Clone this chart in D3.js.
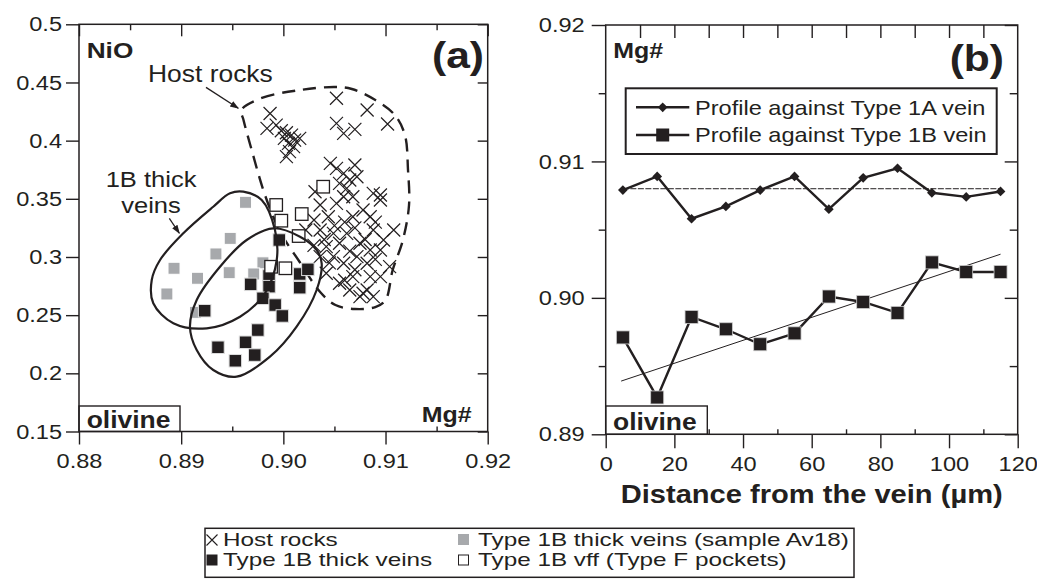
<!DOCTYPE html>
<html>
<head>
<meta charset="utf-8">
<script src="https://cdn.jsdelivr.net/npm/d3@7"></script>
<style>
  body { margin: 0; background: #fff; }
  svg { display: block; }
</style>
</head>
<body>
<div id="chart"></div>
<script>
// ---- panel (a) data: Mg# vs NiO (wt%) in olivine ----
const hostRocks = [
  [0.9052,0.4364],[0.9082,0.4263],[0.9102,0.4143],[0.9052,0.4149],[0.9059,0.4063],[0.9070,0.4097],
  [0.8987,0.4233],[0.8984,0.4106],[0.8993,0.4134],[0.8998,0.4085],[0.9003,0.4068],[0.9008,0.4048],
  [0.9011,0.4005],[0.9016,0.4020],[0.9005,0.3977],[0.9010,0.3948],[0.9006,0.3905],[0.9003,0.3862],
  [0.9001,0.4020],[0.9046,0.3805],[0.9052,0.3762],[0.9070,0.3791],[0.9059,0.3719],[0.9065,0.3662],
  [0.9072,0.3690],[0.9055,0.3633],[0.9062,0.3590],[0.9095,0.3533],[0.9031,0.3561],[0.9059,0.3518],
  [0.9052,0.3461],[0.9036,0.3447],[0.9044,0.3346],[0.9030,0.3318],[0.9036,0.3232],[0.9022,0.3232],
  [0.9049,0.3203],[0.9055,0.3118],[0.9042,0.3089],[0.9036,0.3003],[0.9049,0.3003],[0.9059,0.2946],
  [0.9042,0.2860],[0.9055,0.2774],[0.9065,0.2716],[0.9075,0.2659],[0.9082,0.2716],[0.9088,0.2659],
  [0.9068,0.3346],[0.9078,0.3404],[0.9085,0.3346],[0.9088,0.3232],[0.9095,0.3490],[0.9098,0.3146],
  [0.9095,0.3060],[0.9085,0.3060],[0.9075,0.3118],[0.9072,0.3003],[0.9082,0.2946],[0.9108,0.3232],
  [0.9104,0.2917],[0.9095,0.2831],[0.9085,0.2831],[0.9068,0.2831],[0.9062,0.3203],[0.9068,0.3518],
  [0.9088,0.3547],[0.9078,0.2688],[0.9040,0.3150],[0.9060,0.3300],[0.9070,0.3250],[0.9050,0.3270],
  [0.9080,0.3150],[0.9065,0.3050],[0.9030,0.3100],[0.9045,0.2950],[0.9070,0.2890],[0.9090,0.2980],
  [0.9060,0.2800],[0.9090,0.3300]
];
const thickVeinsAv18 = [
  [0.8963,0.3470],[0.8948,0.3160],[0.8934,0.3026],[0.8947,0.2865],[0.8893,0.2903],
  [0.8916,0.2817],[0.8886,0.2682],[0.8914,0.2524],[0.8980,0.2950],[0.8971,0.2854]
];
const thickVeins = [
  [0.8996,0.3146],[0.8968,0.2765],[0.8986,0.2837],[0.9016,0.2854],[0.9024,0.2894],[0.9016,0.2736],
  [0.8986,0.2745],[0.8980,0.2645],[0.8992,0.2587],[0.8999,0.2493],[0.8923,0.2538],[0.8975,0.2372],
  [0.8963,0.2267],[0.8936,0.2224],[0.8972,0.2157],[0.8953,0.2108]
];
const vffPockets = [
  [0.9039,0.3604],[0.8993,0.3447],[0.9018,0.3369],[0.8998,0.3312],[0.9015,0.3180],
  [0.8988,0.2916],[0.9002,0.2903]
];
// field outlines (Mg#, NiO)
const hostOutline = [
  [0.8959,0.4263],[0.8979,0.4367],[0.9016,0.4435],[0.9051,0.4461],[0.9067,0.4444],[0.9090,0.4349],
  [0.9109,0.4221],[0.9119,0.4048],[0.9122,0.3748],[0.9123,0.3447],[0.9117,0.3146],[0.9107,0.2888],
  [0.9100,0.2630],[0.9090,0.2570],[0.9070,0.2553],[0.9051,0.2587],[0.9036,0.2699],[0.9016,0.2957],
  [0.8997,0.3215],[0.8982,0.3533],[0.8969,0.3920],[0.8961,0.4178]
];
const av18Outline = [
  [0.89608,0.35611],[0.89788,0.34898],[0.89918,0.32319],[0.89935,0.29741],[0.8982,0.26878],
  [0.89576,0.24867],[0.8925,0.2387],[0.88923,0.2430],[0.88727,0.2602],[0.88712,0.2802],
  [0.88793,0.2974],[0.89021,0.3204],[0.89314,0.3432],[0.89478,0.3547]
];
const thickOutline = [
  [0.89902,0.32466],[0.90163,0.31744],[0.90326,0.3060],[0.90375,0.29457],[0.90326,0.27162],
  [0.9013,0.24008],[0.89869,0.21429],[0.89543,0.1971],[0.89314,0.20285],[0.89152,0.22004],
  [0.89086,0.24007],[0.89152,0.26302],[0.8938,0.29164],[0.89641,0.3146]
];
const aYTicks = [0.15,0.2,0.25,0.3,0.35,0.4,0.45,0.5];
const aYLabels = ["0.15","0.2","0.25","0.3","0.35","0.4","0.45","0.5"];
const aXTicks = [0.88,0.89,0.90,0.91,0.92];
const aXLabels = ["0.88","0.89","0.90","0.91","0.92"];

// ---- panel (b) data: Mg# profiles vs distance from vein ----
const distance = [5,15,25,35,45,55,65,75,85,95,105,115];
const profile1A = [0.9079,0.9089,0.9058,0.9067,0.9079,0.9089,0.9065,0.9088,0.9095,0.9077,0.9074,0.9078];
const profile1B = [0.8971,0.8927,0.8986,0.8977,0.8966,0.8974,0.9001,0.8997,0.8989,0.9026,0.9019,0.9019];
const trend1A = [[5,0.9080],[115,0.9080]];
const trend1B = [[4.5,0.8939],[115,0.9032]];
const bYTicks = [0.89,0.90,0.91,0.92];
const bYLabels = ["0.89","0.90","0.91","0.92"];
const bXTicks = [0,20,40,60,80,100,120];

const SX = 1.15; // the figure's type is set a little wide
const FONT = "'Liberation Sans', Arial, Helvetica, sans-serif";
const INK = "#231f20";

const svg = d3.select("#chart").append("svg")
  .attr("width", 1037).attr("height", 580)
  .style("font-family", FONT);
svg.append("rect").attr("width", 1037).attr("height", 580).attr("fill", "#fff");

const defs = svg.append("defs");
defs.append("marker").attr("id", "arrow")
  .attr("viewBox", "0 0 10 10").attr("refX", 9).attr("refY", 5)
  .attr("markerWidth", 9).attr("markerHeight", 9).attr("orient", "auto")
  .attr("markerUnits", "userSpaceOnUse")
  .append("path").attr("d", "M0,1.5 L10,5 L0,8.5 Z").attr("fill", INK);

// text stretched horizontally like the original type
function label(g, x, y, s, size, opts = {}) {
  return g.append("text")
    .attr("transform", `translate(${x},${y}) scale(${opts.sx || SX},1)`)
    .attr("font-size", size)
    .attr("font-weight", opts.bold ? "bold" : "normal")
    .attr("text-anchor", opts.anchor || "start")
    .attr("fill", INK)
    .text(s);
}

function styleAxis(g, size) {
  g.select(".domain").remove();
  g.selectAll(".tick line").attr("stroke", INK).attr("stroke-width", 1.4);
  g.selectAll(".tick text")
    .attr("font-size", size).attr("font-family", FONT).attr("fill", INK)
    .attr("transform", `scale(${SX},1)`)
    .attr("x", function () { return (+d3.select(this).attr("x") || 0) / SX; });
}

function minors(lo, hi, step, skip) {
  const out = [];
  for (let v = lo; v <= hi + step / 2; v += step) {
    const r = Math.round(v * 1e6) / 1e6;
    if (!skip.some(s => Math.abs(s - r) < 1e-9)) out.push(r);
  }
  return out;
}

// ================= panel (a) =================
const aX = d3.scaleLinear().domain([0.88, 0.92]).range([79, 487.7]);
const aY = d3.scaleLinear().domain([0.15, 0.5]).range([431.5, 24.3]);
const pa = svg.append("g");
const aXMinor = minors(0.88, 0.92, 0.005, aXTicks);

// axes
pa.append("g").attr("transform", `translate(${aX.range()[0]},0)`)
  .call(d3.axisLeft(aY).tickValues(aYTicks).tickSize(13).tickPadding(4)
    .tickFormat((d, i) => aYLabels[i]))
  .call(g => styleAxis(g, 20.5));
pa.append("g").attr("transform", `translate(${aX.range()[1]},0)`)
  .call(d3.axisRight(aY).tickValues(aYTicks).tickSize(-10).tickFormat(""))
  .call(g => styleAxis(g, 0));
pa.append("g").attr("transform", `translate(0,${aY.range()[0]})`)
  .call(d3.axisBottom(aX).tickValues(aXTicks).tickSize(13).tickPadding(9)
    .tickFormat((d, i) => aXLabels[i]))
  .call(g => styleAxis(g, 20.5));
pa.append("g").attr("transform", `translate(0,${aY.range()[0]})`)
  .call(d3.axisBottom(aX).tickValues(aXMinor).tickSize(-5).tickFormat(""))
  .call(g => styleAxis(g, 0));
pa.append("g").attr("transform", `translate(0,${aY.range()[1]})`)
  .call(d3.axisTop(aX).tickValues(aXTicks).tickSize(-12).tickFormat(""))
  .call(g => styleAxis(g, 0));
pa.append("g").attr("transform", `translate(0,${aY.range()[1]})`)
  .call(d3.axisTop(aX).tickValues(aXMinor).tickSize(-6).tickFormat(""))
  .call(g => styleAxis(g, 0));

const outline = d3.line().x(d => aX(d[0])).y(d => aY(d[1])).curve(d3.curveCatmullRomClosed.alpha(0.5));

pa.append("path").attr("d", outline(hostOutline))
  .attr("fill", "none").attr("stroke", INK).attr("stroke-width", 2.4)
  .attr("stroke-dasharray", "13,8");

// host rock crosses
pa.append("g").selectAll("path").data(hostRocks).join("path")
  .attr("transform", d => `translate(${aX(d[0])},${aY(d[1])})`)
  .attr("d", "M-6.5,-6.5L6.5,6.5M-6.5,6.5L6.5,-6.5")
  .attr("stroke", INK).attr("stroke-width", 1.2).attr("fill", "none");

function squaresA(data, size, fill, stroke) {
  pa.append("g").selectAll("rect").data(data).join("rect")
    .attr("x", d => aX(d[0]) - size / 2).attr("y", d => aY(d[1]) - size / 2)
    .attr("width", size).attr("height", size)
    .attr("fill", fill).attr("stroke", stroke).attr("stroke-width", stroke === INK ? 1.3 : 1);
}
squaresA(thickVeinsAv18, 12, "#a7a9ac", "#fff");
squaresA(thickVeins, 12.5, INK, "#ddd");
squaresA(vffPockets, 12.5, "#fff", INK);

pa.append("path").attr("d", outline(av18Outline))
  .attr("fill", "none").attr("stroke", INK).attr("stroke-width", 2.2);
pa.append("path").attr("d", outline(thickOutline))
  .attr("fill", "none").attr("stroke", INK).attr("stroke-width", 2.2);

// annotations
label(pa, aX(0.88675), aY(0.4507), "Host rocks", 23);
pa.append("line")
  .attr("x1", aX(0.89243)).attr("y1", aY(0.4458)).attr("x2", aX(0.89559)).attr("y2", aY(0.4278))
  .attr("stroke", INK).attr("stroke-width", 1.3).attr("marker-end", "url(#arrow)");
label(pa, aX(0.88705), aY(0.3604), "1B thick", 22.2, { anchor: "middle" });
label(pa, aX(0.88705), aY(0.3375), "veins", 22.2, { anchor: "middle" });
pa.append("line")
  .attr("x1", aX(0.88884)).attr("y1", aY(0.3332)).attr("x2", aX(0.88982)).attr("y2", aY(0.3204))
  .attr("stroke", INK).attr("stroke-width", 1.3).attr("marker-end", "url(#arrow)");

// frame and corner labels
pa.append("rect").attr("x", 79).attr("y", 406).attr("width", 101).attr("height", 25.5)
  .attr("fill", "#fff").attr("stroke", INK).attr("stroke-width", 1.4);
label(pa, 86.7, 428.3, "olivine", 23, { bold: true });
label(pa, 86.7, 58.3, "NiO", 22.8, { bold: true });
label(pa, 471.7, 421.7, "Mg#", 21.7, { bold: true, anchor: "end" });
label(pa, 484, 68, "(a)", 37, { bold: true, anchor: "end" });
pa.append("rect").attr("x", 79).attr("y", 24.3).attr("width", 408.7).attr("height", 407.2)
  .attr("fill", "none").attr("stroke", INK).attr("stroke-width", 1.5);

// ================= panel (b) =================
const bX = d3.scaleLinear().domain([0, 120]).range([605.7, 1017.7]);
const bY = d3.scaleLinear().domain([0.89, 0.92]).range([434.3, 25]);
const pb = svg.append("g");
const bYMinor = minors(0.89, 0.92, 0.005, bYTicks);
const bXMinor = minors(0, 120, 10, bXTicks);

pb.append("g").attr("transform", `translate(${bX.range()[0]},0)`)
  .call(d3.axisLeft(bY).tickValues(bYTicks).tickSize(14).tickPadding(7)
    .tickFormat((d, i) => bYLabels[i]))
  .call(g => styleAxis(g, 20.5));
pb.append("g").attr("transform", `translate(${bX.range()[0]},0)`)
  .call(d3.axisLeft(bY).tickValues(bYMinor).tickSize(7).tickFormat(""))
  .call(g => styleAxis(g, 0));
pb.append("g").attr("transform", `translate(${bX.range()[1]},0)`)
  .call(d3.axisRight(bY).tickValues(bYTicks).tickSize(-13).tickFormat(""))
  .call(g => styleAxis(g, 0));
pb.append("g").attr("transform", `translate(${bX.range()[1]},0)`)
  .call(d3.axisRight(bY).tickValues(bYMinor).tickSize(-8).tickFormat(""))
  .call(g => styleAxis(g, 0));
pb.append("g").attr("transform", `translate(0,${bY.range()[0]})`)
  .call(d3.axisBottom(bX).tickValues(bXTicks).tickSize(14).tickPadding(8))
  .call(g => styleAxis(g, 20.5));
pb.append("g").attr("transform", `translate(0,${bY.range()[0]})`)
  .call(d3.axisBottom(bX).tickValues(bXMinor).tickSize(-5).tickFormat(""))
  .call(g => styleAxis(g, 0));
pb.append("g").attr("transform", `translate(0,${bY.range()[1]})`)
  .call(d3.axisTop(bX).tickValues(minors(10, 110, 10, [])).tickSize(-13).tickFormat(""))
  .call(g => styleAxis(g, 0));

const trendLine = d3.line().x(d => bX(d[0])).y(d => bY(d[1]));
pb.append("path").attr("d", trendLine(trend1A))
  .attr("fill", "none").attr("stroke", INK).attr("stroke-width", 1).attr("stroke-dasharray", "6,1.5");
pb.append("path").attr("d", trendLine(trend1B))
  .attr("fill", "none").attr("stroke", INK).attr("stroke-width", 1);

const profLine = d3.line().x((d, i) => bX(distance[i])).y(d => bY(d));
pb.append("path").attr("d", profLine(profile1A))
  .attr("fill", "none").attr("stroke", INK).attr("stroke-width", 2.4);
pb.append("path").attr("d", profLine(profile1B))
  .attr("fill", "none").attr("stroke", INK).attr("stroke-width", 2.4);

const diamond = d3.symbol().type(d3.symbolDiamond2).size(60);
pb.append("g").selectAll("path").data(profile1A).join("path")
  .attr("transform", (d, i) => `translate(${bX(distance[i])},${bY(d)})`)
  .attr("d", diamond).attr("fill", INK);
pb.append("g").selectAll("rect").data(profile1B).join("rect")
  .attr("x", (d, i) => bX(distance[i]) - 6.5).attr("y", d => bY(d) - 6.5)
  .attr("width", 13).attr("height", 13)
  .attr("fill", INK).attr("stroke", "#ccc").attr("stroke-width", 0.8);

// legend (b)
const lg = pb.append("g");
lg.append("rect").attr("x", 625.7).attr("y", 88.3).attr("width", 371).attr("height", 65.7)
  .attr("fill", "#fff").attr("stroke", INK).attr("stroke-width", 2);
[[107.3, "Profile against Type 1A vein", "d"], [135, "Profile against Type 1B vein", "s"]]
  .forEach(([cy, t, m]) => {
    lg.append("line").attr("x1", 636).attr("x2", 689.3).attr("y1", cy).attr("y2", cy)
      .attr("stroke", INK).attr("stroke-width", 2.4);
    if (m === "d") {
      lg.append("path").attr("transform", `translate(662.7,${cy})`).attr("d", diamond).attr("fill", INK);
    } else {
      lg.append("rect").attr("x", 662.7 - 6.5).attr("y", cy - 6.5).attr("width", 13).attr("height", 13)
        .attr("fill", INK);
    }
    label(lg, 695, cy + 7.4, t, 20.5);
  });

pb.append("rect").attr("x", 605.7).attr("y", 406).attr("width", 101.6).attr("height", 28.3)
  .attr("fill", "#fff").attr("stroke", INK).attr("stroke-width", 1.4);
label(pb, 613, 430, "olivine", 23, { bold: true });
label(pb, 613.3, 58.3, "Mg#", 21.7, { bold: true });
label(pb, 1004, 71, "(b)", 37, { bold: true, anchor: "end" });
pb.append("rect").attr("x", 605.7).attr("y", 25).attr("width", 412).attr("height", 409.3)
  .attr("fill", "none").attr("stroke", INK).attr("stroke-width", 1.5);
label(pb, 811.7, 503, "Distance from the vein (µm)", 25.3, { bold: true, anchor: "middle" });

// ================= shared legend =================
const LSX = 1.35;
const leg = svg.append("g");
leg.append("rect").attr("x", 205).attr("y", 528.3).attr("width", 649).attr("height", 49)
  .attr("fill", "#fff").attr("stroke", INK).attr("stroke-width", 1.5);
leg.append("path").attr("transform", "translate(212,540)")
  .attr("d", "M-5.5,-5.5L5.5,5.5M-5.5,5.5L5.5,-5.5").attr("stroke", INK).attr("stroke-width", 1.1);
label(leg, 223, 545.5, "Host rocks", 18, { sx: LSX });
leg.append("rect").attr("x", 458).attr("y", 534).attr("width", 11).attr("height", 11).attr("fill", "#a7a9ac");
label(leg, 478, 545.5, "Type 1B thick veins (sample Av18)", 18, { sx: LSX });
leg.append("rect").attr("x", 206.5).attr("y", 554.5).attr("width", 11).attr("height", 11).attr("fill", INK);
label(leg, 223, 566, "Type 1B thick veins", 18, { sx: LSX });
leg.append("rect").attr("x", 458.5).attr("y", 555).attr("width", 10).attr("height", 10)
  .attr("fill", "#fff").attr("stroke", INK).attr("stroke-width", 1);
label(leg, 478, 566, "Type 1B vff (Type F pockets)", 18, { sx: LSX });
</script>
</body>
</html>
